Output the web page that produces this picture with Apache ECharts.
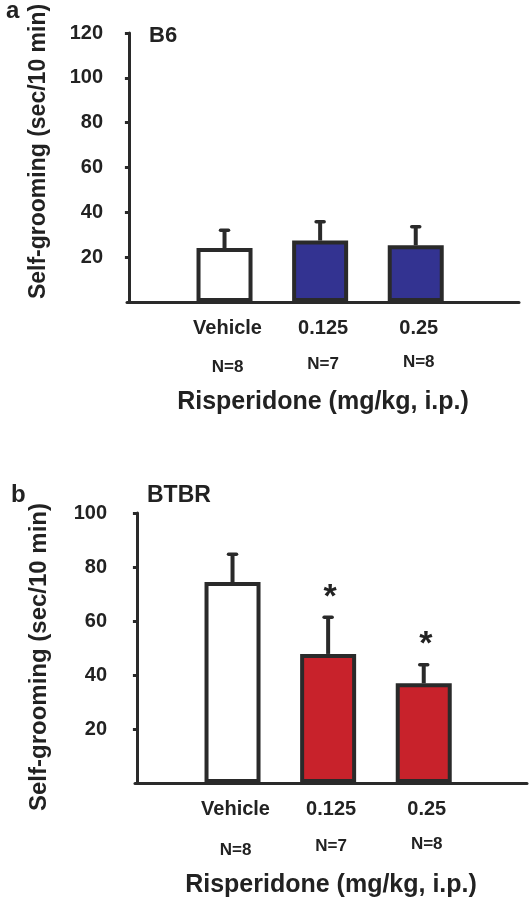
<!DOCTYPE html>
<html>
<head>
<meta charset="utf-8">
<script src="https://cdn.jsdelivr.net/npm/echarts@6/dist/echarts.min.js"></script>
<style>
html,body{margin:0;padding:0;background:#fff;}
#chart{width:529px;height:902px;}
</style>
</head>
<body>
<div id="chart"></div>
<script>
// ---- data ----
var categories = ['Vehicle', '0.125', '0.25'];
var nLabels = ['N=8', 'N=7', 'N=8'];
var xPos = [1, 2, 3];
var b6Mean = [24.1, 27.4, 25.3];
var b6Sem = [7.9, 8.4, 8.3];
var btbrMean = [74.4, 47.8, 36.9];
var btbrSem = [10.3, 13.6, 6.9];
var btbrSig = [false, true, true];
var b6Sig = [false, false, false];
var yTicksA = [20, 40, 60, 80, 100, 120];
var yTicksB = [20, 40, 60, 80, 100];

var TXT = '#222222';
var LINE = '#2a2a2a';
var FONT = '"Liberation Sans", Arial, sans-serif';
var b6Colors = ['#ffffff', '#333391', '#333391'];
var btbrColors = ['#ffffff', '#c8222b', '#c8222b'];

function xAxisCfg(gridIndex, nHeights, nameGap) {
  return {
    type: 'value', gridIndex: gridIndex, min: -0.02, max: 4.08,
    axisLine: {show: true, lineStyle: {color: LINE, width: 3}},
    axisTick: {show: false},
    splitLine: {show: false},
    axisLabel: {
      show: true, customValues: xPos, margin: 13, verticalAlign: 'top',
      formatter: function (v) {
        var i = Math.round(v) - 1;
        return '{c|' + categories[i] + '}\n{n' + i + '|' + nLabels[i] + '}';
      },
      rich: {
        c: {fontSize: 20, fontWeight: 'bold', lineHeight: 26, color: TXT, fontFamily: FONT, padding: [0, 0, 0, 6]},
        n0: {fontSize: 17, fontWeight: 'bold', lineHeight: nHeights[0], color: TXT, fontFamily: FONT, padding: [0, 0, 0, 6]},
        n1: {fontSize: 17, fontWeight: 'bold', lineHeight: nHeights[1], color: TXT, fontFamily: FONT, padding: [0, 0, 0, 6]},
        n2: {fontSize: 17, fontWeight: 'bold', lineHeight: nHeights[2], color: TXT, fontFamily: FONT, padding: [0, 0, 0, 6]}
      }
    },
    name: 'Risperidone (mg/kg, i.p.)', nameLocation: 'middle', nameGap: nameGap,
    nameTextStyle: {fontSize: 25, fontWeight: 'bold', color: TXT, fontFamily: FONT}
  };
}

function yAxisCfg(gridIndex, max, ticks, margin, nameGap, namePad, nameSize) {
  return {
    type: 'value', gridIndex: gridIndex, min: 0, max: max,
    axisLine: {show: true, lineStyle: {color: LINE, width: 3}},
    axisTick: {show: true, customValues: ticks, length: 4, lineStyle: {color: LINE, width: 3}},
    splitLine: {show: false},
    axisLabel: {show: true, customValues: ticks, margin: margin, fontSize: 20, fontWeight: 'bold',
      color: TXT, fontFamily: FONT, padding: [7, 0, 0, 0]},
    name: 'Self-grooming (sec/10 min)', nameLocation: 'middle', nameGap: nameGap, nameRotate: 90,
    nameTextStyle: {fontSize: nameSize, fontWeight: 'bold', color: TXT, fontFamily: FONT, padding: namePad}
  };
}

function barSeries(idx, means, colors) {
  return {
    type: 'bar', xAxisIndex: idx, yAxisIndex: idx, barWidth: 56,
    data: xPos.map(function (x, i) {
      return {value: [x, means[i]], itemStyle: {color: colors[i]}};
    }),
    itemStyle: {borderColor: LINE, borderWidth: 4},
    z: 2, animation: false
  };
}

function errSeries(idx, means, sems, sig) {
  return {
    type: 'custom', xAxisIndex: idx, yAxisIndex: idx, z: 3, animation: false,
    data: xPos.map(function (x, i) { return [x, means[i], sems[i], sig[i] ? 1 : 0]; }),
    encode: {x: 0, y: 1},
    renderItem: function (params, api) {
      var x = api.value(0), m = api.value(1), e = api.value(2), s = api.value(3);
      var p0 = api.coord([x, m]);
      var p1 = api.coord([x, m + e]);
      var children = [
        {type: 'line', shape: {x1: p0[0], y1: p0[1], x2: p1[0], y2: p1[1]},
          style: {stroke: LINE, lineWidth: 4}},
        {type: 'line', shape: {x1: p1[0] - 4, y1: p1[1], x2: p1[0] + 4, y2: p1[1]},
          style: {stroke: LINE, lineWidth: 3.5, lineCap: 'round'}}
      ];
      if (s) {
        children.push({type: 'text', x: p1[0] + 2, y: p1[1] - 20,
          style: {text: '*', fontSize: 34, fontWeight: 'bold', fontFamily: FONT, fill: TXT, align: 'center', verticalAlign: 'middle'}});
      }
      return {type: 'group', children: children};
    }
  };
}

var chart = echarts.init(document.getElementById('chart'), null, {renderer: 'canvas'});
chart.setOption({
  animation: false,
  backgroundColor: '#ffffff',
  textStyle: {fontFamily: FONT},
  title: [
    {text: 'a', left: 1, top: -6, textStyle: {fontSize: 24, fontWeight: 'bold', color: TXT, fontFamily: FONT}},
    {text: 'B6', left: 144, top: 20, textStyle: {fontSize: 22, fontWeight: 'bold', color: TXT, fontFamily: FONT}},
    {text: 'b', left: 6, top: 478, textStyle: {fontSize: 24, fontWeight: 'bold', color: TXT, fontFamily: FONT}},
    {text: 'BTBR', left: 142, top: 479, textStyle: {fontSize: 23, fontWeight: 'bold', color: TXT, fontFamily: FONT}}
  ],
  grid: [
    {left: 127, top: 33, width: 392, height: 269},
    {left: 135, top: 513, width: 392, height: 270}
  ],
  xAxis: [xAxisCfg(0, [52, 46, 42], 88), xAxisCfg(1, [56, 48, 44], 90)],
  yAxis: [
    yAxisCfg(0, 120, yTicksA, 24, 77, [0, 0, 0, 32], 23),
    yAxisCfg(1, 100, yTicksB, 28, 84, [0, 18, 0, 0], 24)
  ],
  series: [
    barSeries(0, b6Mean, b6Colors),
    errSeries(0, b6Mean, b6Sem, b6Sig),
    barSeries(1, btbrMean, btbrColors),
    errSeries(1, btbrMean, btbrSem, btbrSig)
  ]
});
</script>
</body>
</html>
